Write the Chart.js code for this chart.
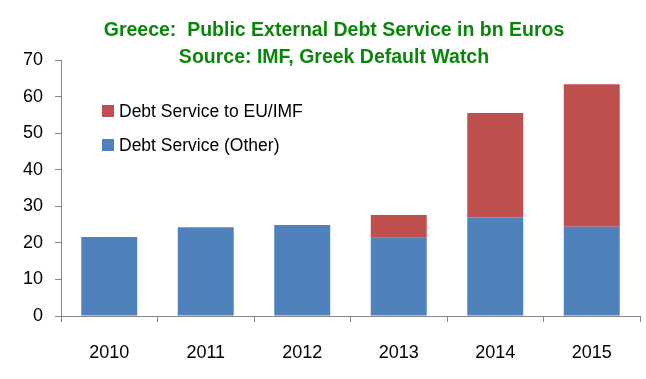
<!DOCTYPE html>
<html>
<head>
<meta charset="utf-8">
<script src="https://cdn.jsdelivr.net/npm/chart.js@4/dist/chart.umd.min.js"></script>
<style>
html,body{margin:0;padding:0;background:#fff;}
#wrap{width:646px;height:379px;position:relative;}
</style>
</head>
<body>
<div id="wrap"><canvas id="c" width="646" height="379"></canvas></div>
<script>
const categories = ["2010", "2011", "2012", "2013", "2014", "2015"];
const debtOther = [21.6, 24.3, 24.9, 21.4, 26.9, 24.4];
const debtEuImf = [null, null, null, 6.2, 28.6, 39.0];
const seriesNames = ["Debt Service (Other)", "Debt Service to EU/IMF"];
const titleLines = ["Greece:  Public External Debt Service in bn Euros", "Source: IMF, Greek Default Watch"];
const yTicks = [0, 10, 20, 30, 40, 50, 60, 70];

const FONT = "'Liberation Sans', Arial, sans-serif";

const titlePlugin = {
  id: 'customTitle',
  afterDraw(chart) {
    const ctx = chart.ctx;
    ctx.save();
    ctx.fillStyle = '#0A870A';
    ctx.font = 'bold 19.5px ' + FONT;
    ctx.textAlign = 'center';
    ctx.textBaseline = 'middle';
    ctx.fillText(titleLines[0], 334, 31);
    ctx.fillText(titleLines[1], 334, 58);
    ctx.restore();
  }
};

const legendPlugin = {
  id: 'customLegend',
  afterDraw(chart) {
    const ctx = chart.ctx;
    const ds = chart.data.datasets;
    const order = [1, 0];
    ctx.save();
    ctx.font = '17.5px ' + FONT;
    ctx.textBaseline = 'middle';
    ctx.textAlign = 'left';
    order.forEach((idx, i) => {
      const y = 111 + i * 34;
      ctx.fillStyle = ds[idx].backgroundColor;
      ctx.fillRect(102, y - 6, 12, 12);
      ctx.fillStyle = '#000';
      ctx.fillText(ds[idx].label, 119, y + 1);
    });
    ctx.restore();
  }
};

new Chart(document.getElementById('c'), {
  type: 'bar',
  data: {
    labels: categories,
    datasets: [
      { label: seriesNames[0], data: debtOther, backgroundColor: '#4F81BD', stack: 's' },
      { label: seriesNames[1], data: debtEuImf, backgroundColor: '#C0504D', stack: 's' }
    ]
  },
  options: {
    responsive: false,
    animation: false,
    layout: { padding: { top: 60, right: 6, left: 0, bottom: 0 } },
    datasets: { bar: { categoryPercentage: 1.0, barPercentage: 0.58 } },
    plugins: {
      legend: { display: false },
      title: { display: false },
      tooltip: { enabled: false }
    },
    scales: {
      x: {
        stacked: true,
        grid: { display: true, drawOnChartArea: false, offset: true, color: '#868686', tickLength: 6, lineWidth: 1 },
        border: { color: '#868686', width: 1 },
        ticks: { color: '#000', font: { size: 18, family: FONT }, padding: 20 },
        afterFit(scale) { scale.height = 63; }
      },
      y: {
        stacked: true,
        min: 0,
        max: 70,
        afterBuildTicks(scale) { scale.ticks = yTicks.map(v => ({ value: v })); },
        grid: { display: true, drawOnChartArea: false, color: '#868686', tickLength: 6, lineWidth: 1 },
        border: { color: '#868686', width: 1 },
        ticks: { color: '#000', font: { size: 18, family: FONT }, padding: 12 },
        afterFit(scale) { scale.width = 61; }
      }
    }
  },
  plugins: [titlePlugin, legendPlugin]
});
</script>
</body>
</html>
